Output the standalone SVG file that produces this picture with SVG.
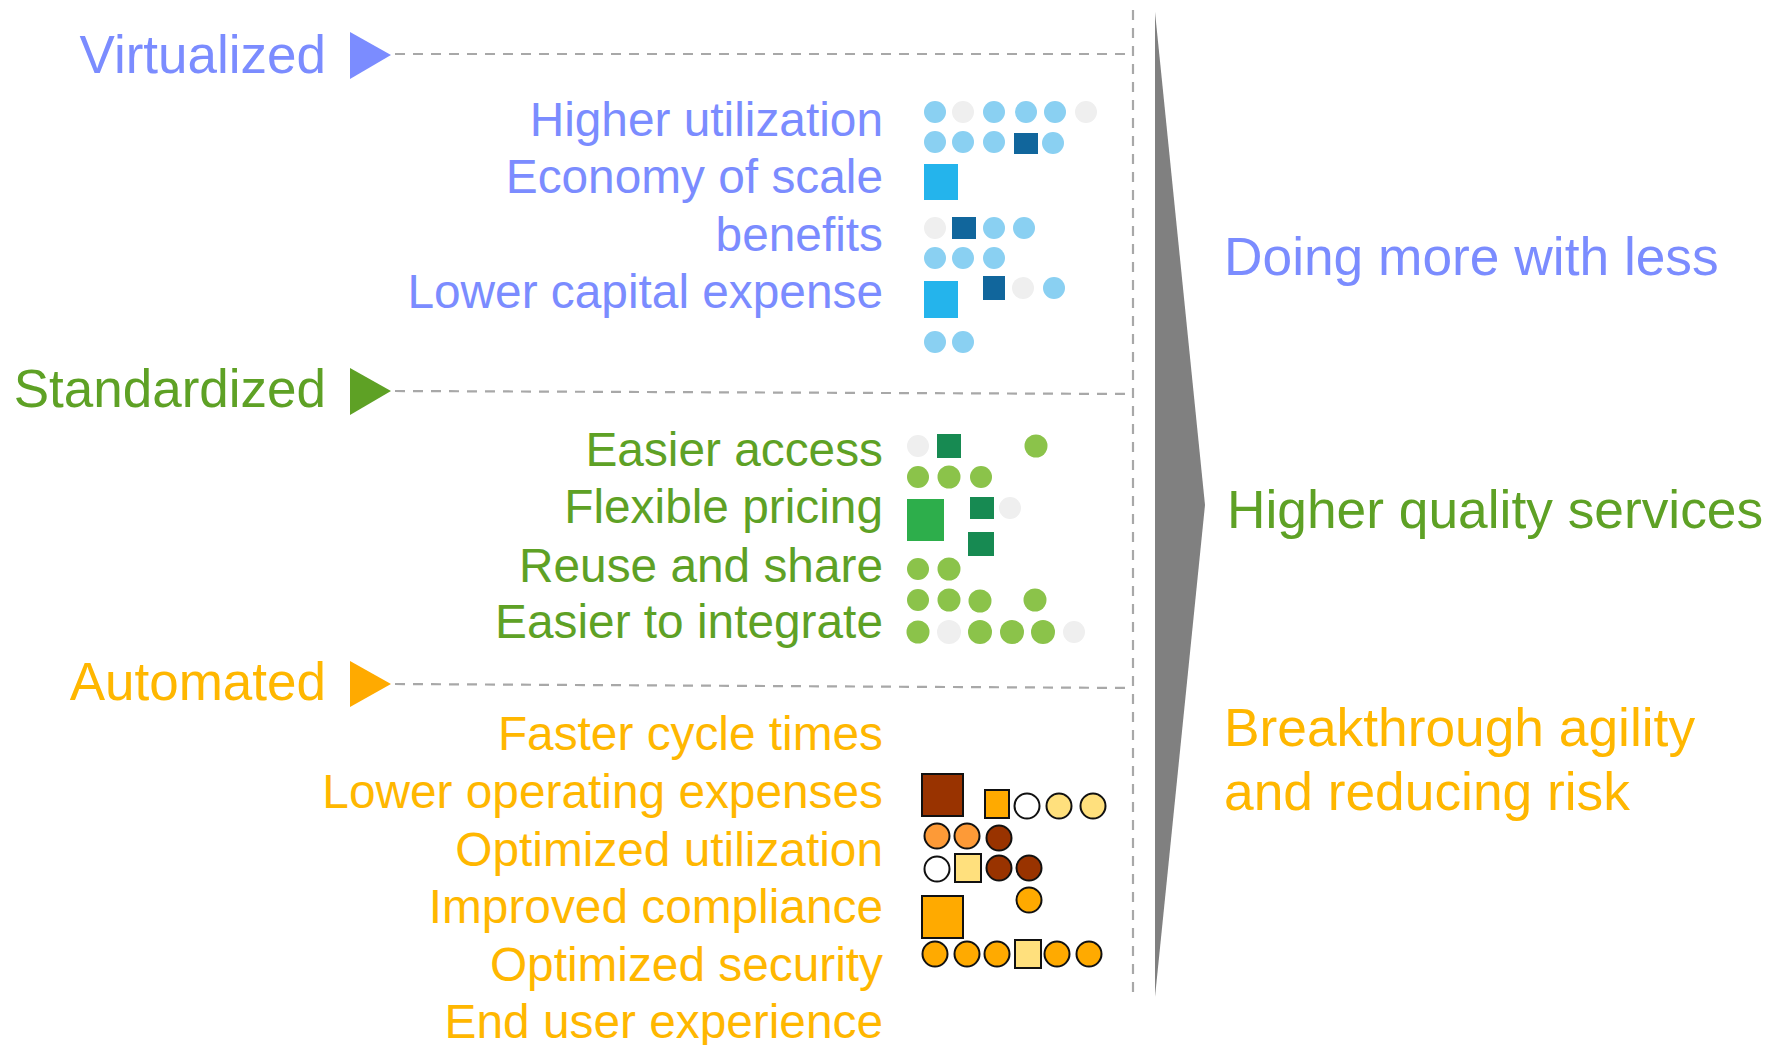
<svg xmlns="http://www.w3.org/2000/svg" width="1778" height="1045" viewBox="0 0 1778 1045">
<style>
text{font-family:"Liberation Sans",Arial,sans-serif}
.hd{font-size:53px;text-anchor:end}
.it{font-size:47.8px;text-anchor:end}
.rt{font-size:53.3px}
.blue{fill:#7b8cff}
.green{fill:#5ea125}
.orange{fill:#ffb700}
.dash{stroke:#a8a8a8;stroke-width:2.2;stroke-dasharray:10 8;fill:none}
.lb{fill:#8ad0f2}
.gy{fill:#efefef}
.db{fill:#11669c}
.bb{fill:#24b4ec}
.lg{fill:#8bc34a}
.dg{fill:#178a52}
.bg{fill:#2dae4b}
.o{stroke:#111;stroke-width:2}
.br{fill:#993300}
.or{fill:#ffaa00}
.lo{fill:#fd9a37}
.ye{fill:#ffe07d}
.wh{fill:#ffffff}
</style>

<g id="connectors">
  <line class="dash" x1="1133" y1="10" x2="1133" y2="1000"/>
  <line class="dash" x1="395" y1="54" x2="1133" y2="54"/>
  <line class="dash" x1="395" y1="391" x2="1133" y2="394"/>
  <line class="dash" x1="395" y1="684" x2="1133" y2="688"/>
</g>

<g id="big-arrow">
  <polygon points="1155,12 1205,505 1155,997" fill="#808080"/>
</g>

<g id="virtualized">
  <text class="hd blue" x="326" y="73">Virtualized</text>
  <polygon points="350,32 391,55 350,79" fill="#7b8cff"/>
  <text class="it blue" x="883" y="136">Higher utilization</text>
  <text class="it blue" x="883" y="193">Economy of scale</text>
  <text class="it blue" x="883" y="251">benefits</text>
  <text class="it blue" x="883" y="308">Lower capital expense</text>
  <g id="virtualized-dots">
    <circle class="lb" cx="935" cy="112" r="11"/>
    <circle class="gy" cx="963" cy="112" r="11"/>
    <circle class="lb" cx="994" cy="112" r="11"/>
    <circle class="lb" cx="1026" cy="112" r="11"/>
    <circle class="lb" cx="1055" cy="112" r="11"/>
    <circle class="gy" cx="1086" cy="112" r="11"/>
    <circle class="lb" cx="935" cy="142" r="11"/>
    <circle class="lb" cx="963" cy="142" r="11"/>
    <circle class="lb" cx="994" cy="142" r="11"/>
    <rect class="db" x="1014" y="133" width="24" height="21"/>
    <circle class="lb" cx="1053" cy="143" r="11"/>
    <rect class="bb" x="924" y="164" width="34" height="36"/>
    <circle class="gy" cx="935" cy="228" r="11"/>
    <rect class="db" x="952" y="217" width="24" height="22"/>
    <circle class="lb" cx="994" cy="228" r="11"/>
    <circle class="lb" cx="1024" cy="228" r="11"/>
    <circle class="lb" cx="935" cy="258" r="11"/>
    <circle class="lb" cx="963" cy="258" r="11"/>
    <circle class="lb" cx="994" cy="258" r="11"/>
    <rect class="bb" x="924" y="281" width="34" height="37"/>
    <rect class="db" x="983" y="276" width="22" height="24"/>
    <circle class="gy" cx="1023" cy="288" r="11"/>
    <circle class="lb" cx="1054" cy="288" r="11"/>
    <circle class="lb" cx="935" cy="342" r="11"/>
    <circle class="lb" cx="963" cy="342" r="11"/>
  </g>
</g>

<g id="standardized">
  <text class="hd green" x="326" y="407">Standardized</text>
  <polygon points="350,368 391,391 350,415" fill="#5ea125"/>
  <text class="it green" x="883" y="466">Easier access</text>
  <text class="it green" x="883" y="523">Flexible pricing</text>
  <text class="it green" x="883" y="582">Reuse and share</text>
  <text class="it green" x="883" y="638">Easier to integrate</text>
  <g id="standardized-dots">
    <circle class="gy" cx="918" cy="446" r="11"/>
    <rect class="dg" x="937" y="434" width="24" height="24"/>
    <circle class="lg" cx="1036" cy="446" r="11.5"/>
    <circle class="lg" cx="918" cy="477" r="11"/>
    <circle class="lg" cx="949" cy="477" r="11.5"/>
    <circle class="lg" cx="981" cy="477" r="11"/>
    <rect class="bg" x="907" y="499" width="37" height="42"/>
    <rect class="dg" x="970" y="497" width="24" height="22"/>
    <circle class="gy" cx="1010" cy="508" r="11"/>
    <rect class="dg" x="968" y="532" width="26" height="24"/>
    <circle class="lg" cx="918" cy="569" r="11"/>
    <circle class="lg" cx="949" cy="569" r="11.5"/>
    <circle class="lg" cx="918" cy="600" r="11"/>
    <circle class="lg" cx="949" cy="600" r="11.5"/>
    <circle class="lg" cx="980" cy="601" r="11.5"/>
    <circle class="lg" cx="1035" cy="600" r="11.5"/>
    <circle class="lg" cx="918" cy="632" r="11.5"/>
    <circle class="gy" cx="949" cy="632" r="12"/>
    <circle class="lg" cx="980" cy="632" r="12"/>
    <circle class="lg" cx="1012" cy="632" r="12"/>
    <circle class="lg" cx="1043" cy="632" r="12"/>
    <circle class="gy" cx="1074" cy="632" r="11"/>
  </g>
</g>

<g id="automated">
  <text class="hd orange" x="326" y="700">Automated</text>
  <polygon points="350,661 391,684 350,707" fill="#ffaa00"/>
  <text class="it orange" x="883" y="750">Faster cycle times</text>
  <text class="it orange" x="883" y="808">Lower operating expenses</text>
  <text class="it orange" x="883" y="866">Optimized utilization</text>
  <text class="it orange" x="883" y="923">Improved compliance</text>
  <text class="it orange" x="883" y="981">Optimized security</text>
  <text class="it orange" x="883" y="1038">End user experience</text>
  <g id="automated-dots">
    <rect class="br o" x="922" y="774" width="41" height="42"/>
    <rect class="or o" x="985" y="790" width="24" height="28"/>
    <circle class="wh o" cx="1027" cy="806" r="12.5"/>
    <circle class="ye o" cx="1059" cy="806" r="12.5"/>
    <circle class="ye o" cx="1093" cy="806" r="12.5"/>
    <circle class="lo o" cx="937" cy="836" r="12.5"/>
    <circle class="lo o" cx="967" cy="836" r="12.5"/>
    <circle class="br o" cx="999" cy="838" r="12.5"/>
    <circle class="wh o" cx="937" cy="869" r="12.5"/>
    <rect class="ye o" x="955" y="854" width="26" height="28"/>
    <circle class="br o" cx="999" cy="868" r="12.5"/>
    <circle class="br o" cx="1029" cy="868" r="12.5"/>
    <circle class="or o" cx="1029" cy="900" r="12.5"/>
    <rect class="or o" x="922" y="896" width="41" height="42"/>
    <circle class="or o" cx="935" cy="954" r="12.5"/>
    <circle class="or o" cx="967" cy="954" r="12.5"/>
    <circle class="or o" cx="997" cy="954" r="12.5"/>
    <rect class="ye o" x="1015" y="940" width="26" height="28"/>
    <circle class="or o" cx="1057" cy="954" r="12.5"/>
    <circle class="or o" cx="1089" cy="954" r="12.5"/>
  </g>
</g>

<g id="outcomes">
  <text class="rt blue" x="1224" y="275">Doing more with less</text>
  <text class="rt green" x="1227" y="528">Higher quality services</text>
  <text class="rt orange" x="1224" y="746">Breakthrough agility</text>
  <text class="rt orange" x="1224" y="810">and reducing risk</text>
</g>
</svg>
